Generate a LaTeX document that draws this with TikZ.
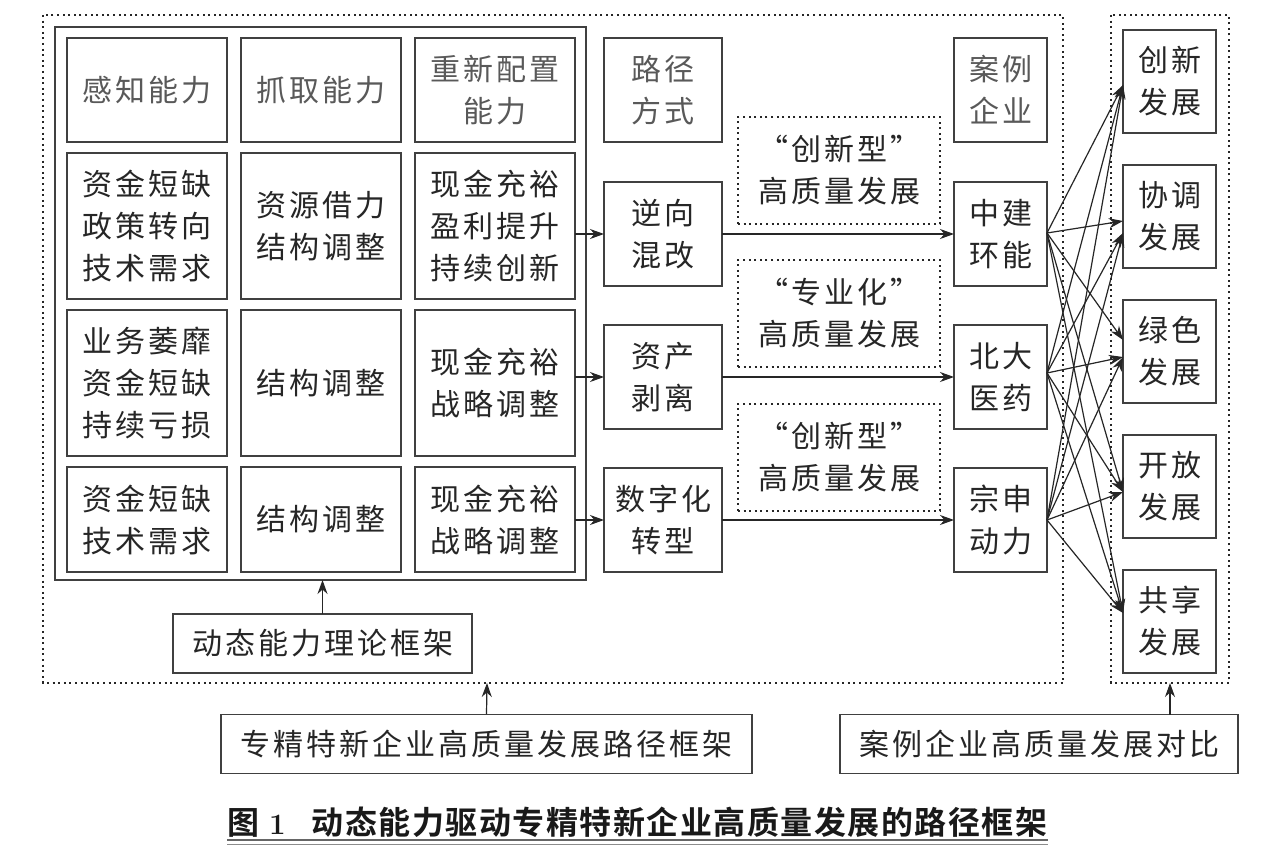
\documentclass[tikz,border=0pt]{standalone}
\usepackage{fontspec}
\newfontfamily\cjk[LetterSpace=10]{Noto Sans CJK SC}
\newfontfamily\cjkb{Noto Sans CJK SC Bold}
\usetikzlibrary{arrows.meta}
\newcommand\capgap{\hspace{1.5pt}}
\begin{document}
\begin{tikzpicture}[x=1pt,y=-1pt,
  txt/.style={font=\cjk\fontsize{30}{42}\selectfont, text=black!85, align=center},
  hdr/.style={txt, text=black!65},
  box/.style={draw=black!75, line width=1.3pt, inner sep=0pt, outer sep=0pt},
  dotbox/.style={draw=black!85, line width=2pt, dash pattern=on 2pt off 3.6pt},
  arr/.style={draw=black!85, line width=1.2pt, -{Stealth[length=14pt,width=10pt,inset=4.5pt]}}
]
\useasboundingbox (0,0) rectangle (1269,864);
\fill[white] (0,0) rectangle (1269,864);

% outer dotted frames
\draw[dotbox] (43,15) rectangle (1063,683);
\draw[dotbox] (1111,15) rectangle (1229,683);
\coordinate (outerS) at (487,683);
\coordinate (rightS) at (1170,683);

% inner frame
\node[box, minimum width=531pt, minimum height=553pt] (frame) at (320.5,303.5) {};

% cells row 1
\node[box, hdr, minimum width=160pt, minimum height=104pt] (c11) at (147,90) {感知能力};
\node[box, hdr, minimum width=160pt, minimum height=104pt] (c12) at (321,90) {抓取能力};
\node[box, hdr, minimum width=160pt, minimum height=104pt] (c13) at (495,90) {重新配置\\能力};
% row 2
\node[box, txt, minimum width=160pt, minimum height=146pt] (c21) at (147,226) {资金短缺\\政策转向\\技术需求};
\node[box, txt, minimum width=160pt, minimum height=146pt] (c22) at (321,226) {资源借力\\结构调整};
\node[box, txt, minimum width=160pt, minimum height=146pt] (c23) at (495,226) {现金充裕\\盈利提升\\持续创新};
% row 3
\node[box, txt, minimum width=160pt, minimum height=146pt] (c31) at (147,383) {业务萎靡\\资金短缺\\持续亏损};
\node[box, txt, minimum width=160pt, minimum height=146pt] (c32) at (321,383) {结构调整};
\node[box, txt, minimum width=160pt, minimum height=146pt] (c33) at (495,383) {现金充裕\\战略调整};
% row 4
\node[box, txt, minimum width=160pt, minimum height=105pt] (c41) at (147,519.5) {资金短缺\\技术需求};
\node[box, txt, minimum width=160pt, minimum height=105pt] (c42) at (321,519.5) {结构调整};
\node[box, txt, minimum width=160pt, minimum height=105pt] (c43) at (495,519.5) {现金充裕\\战略调整};

% path column
\node[box, hdr, minimum width=118pt, minimum height=104pt] (p0) at (663,90) {路径\\方式};
\node[box, txt, minimum width=118pt, minimum height=104pt] (p1) at (663,234) {逆向\\混改};
\node[box, txt, minimum width=118pt, minimum height=104pt] (p2) at (663,377) {资产\\剥离};
\node[box, txt, minimum width=118pt, minimum height=104pt] (p3) at (663,520) {数字化\\转型};

% dotted label boxes
\node[dotbox, txt, inner sep=0pt, minimum width=202pt, minimum height=107pt] (d1) at (839,170.5) {“创新型”\\高质量发展};
\node[dotbox, txt, inner sep=0pt, minimum width=202pt, minimum height=107pt] (d2) at (839,313.5) {“专业化”\\高质量发展};
\node[dotbox, txt, inner sep=0pt, minimum width=202pt, minimum height=107pt] (d3) at (839,457.5) {“创新型”\\高质量发展};

% case column
\node[box, hdr, minimum width=93pt, minimum height=104pt] (k0) at (1000.5,90) {案例\\企业};
\node[box, txt, minimum width=93pt, minimum height=104pt] (k1) at (1000.5,234) {中建\\环能};
\node[box, txt, minimum width=93pt, minimum height=104pt] (k2) at (1000.5,377) {北大\\医药};
\node[box, txt, minimum width=93pt, minimum height=104pt] (k3) at (1000.5,520) {宗申\\动力};

% outcome column
\node[box, txt, minimum width=93pt, minimum height=103pt] (o1) at (1169.5,81.5) {创新\\发展};
\node[box, txt, minimum width=93pt, minimum height=103pt] (o2) at (1169.5,216.5) {协调\\发展};
\node[box, txt, minimum width=93pt, minimum height=103pt] (o3) at (1169.5,351.5) {绿色\\发展};
\node[box, txt, minimum width=93pt, minimum height=103pt] (o4) at (1169.5,486.5) {开放\\发展};
\node[box, txt, minimum width=93pt, minimum height=103pt] (o5) at (1169.5,621.5) {共享\\发展};

% bottom boxes
\node[box, txt, minimum width=299pt, minimum height=59pt] (theory) at (322.5,643.5) {动态能力理论框架};
\node[box, txt, minimum width=531pt, minimum height=59pt] (pathfw) at (486.5,744) {专精特新企业高质量发展路径框架};
\node[box, txt, minimum width=398pt, minimum height=59pt] (cmp) at (1039,744) {案例企业高质量发展对比};

% caption
\node[font=\cjkb\fontsize{32}{36}\selectfont, text=black!90, anchor=west, inner sep=0pt] (cap) at (227,822) {图\hspace{10pt}{\rmfamily\bfseries\fontsize{29.5}{34}\selectfont 1}\hspace{26pt}动\capgap 态\capgap 能\capgap 力\capgap 驱\capgap 动\capgap 专\capgap 精\capgap 特\capgap 新\capgap 企\capgap 业\capgap 高\capgap 质\capgap 量\capgap 发\capgap 展\capgap 的\capgap 路\capgap 径\capgap 框\capgap 架};
\draw[black!60, line width=1.6pt] (cap.south west |- 0,840) -- (cap.south east |- 0,840);
\draw[black!45, line width=1pt] (cap.south west |- 0,844.5) -- (cap.south east |- 0,844.5);

% arrows cells -> paths
\draw[arr] (c23.east |- p1.west) -- (p1.west);
\draw[arr] (c33.east |- p2.west) -- (p2.west);
\draw[arr] (c43.east |- p3.west) -- (p3.west);
% paths -> cases
\draw[arr] (p1.east) -- (k1.west);
\draw[arr] (p2.east) -- (k2.west);
\draw[arr] (p3.east) -- (k3.west);

% case -> outcome
\coordinate (s1) at (1047,233);
\coordinate (s2) at (1047,373);
\coordinate (s3) at (1047,520);
\coordinate (t1) at (1123,85);
\coordinate (t2a) at (1123,221);
\coordinate (t2b) at (1123,233);
\coordinate (t3a) at (1123,340);
\coordinate (t3b) at (1123,357);
\coordinate (t4) at (1123,492);
\coordinate (t5) at (1123,613);
\foreach \s/\t in {s1/t1,s1/t2a,s1/t3a,s1/t4,s1/t5,
                   s2/t1,s2/t2b,s2/t3b,s2/t4,s2/t5,
                   s3/t1,s3/t2b,s3/t3b,s3/t4,s3/t5}
  \draw[arr] (\s) -- (\t);

% bottom arrows
\draw[arr] (theory.north) -- (theory.north |- frame.south);
\draw[arr] (pathfw.north |- outerS) ++(0,31) -- (outerS);
\draw[arr] (cmp.north -| rightS) -- (rightS);
\end{tikzpicture}
\end{document}
